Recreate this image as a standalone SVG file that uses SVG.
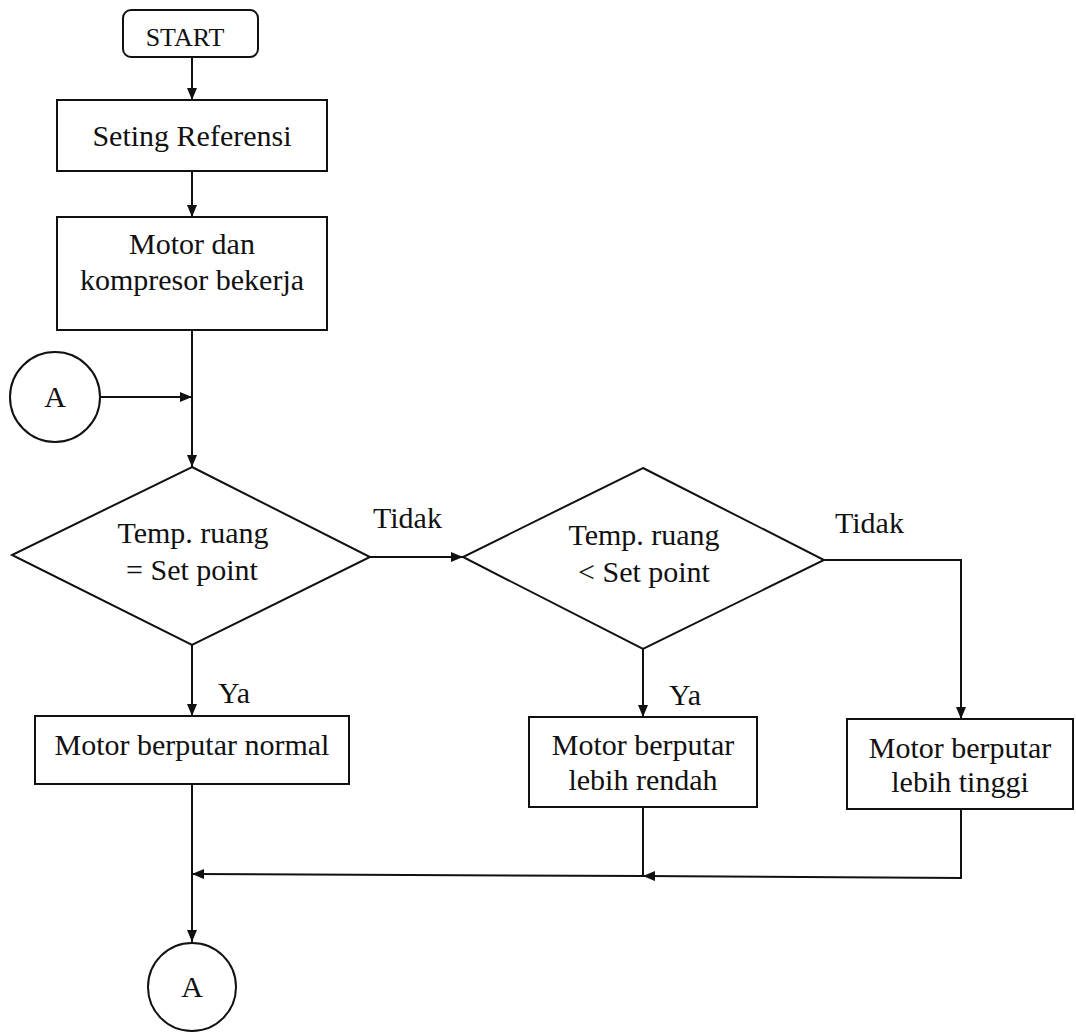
<svg xmlns="http://www.w3.org/2000/svg" width="1076" height="1032" viewBox="0 0 1076 1032">
<defs>
<marker id="arr" viewBox="0 0 12 10" refX="12" refY="5" markerWidth="12" markerHeight="10" markerUnits="userSpaceOnUse" orient="auto">
<path d="M0,0 L12,5 L0,10 z" fill="#111"/>
</marker>
<style>
.s{fill:#fff;stroke:#111;stroke-width:2}
.t{font-family:"Liberation Serif","Times New Roman",serif;font-size:30px;fill:#111;text-anchor:middle}
.l{font-family:"Liberation Serif","Times New Roman",serif;font-size:30px;fill:#111}
.c{fill:none;stroke:#111;stroke-width:2}
</style>
</defs>
<rect width="1076" height="1032" fill="#fff"/>
<g id="connectors">
<path class="c" d="M192,57 L192,100" marker-end="url(#arr)"/>
<path class="c" d="M192,171 L192,217" marker-end="url(#arr)"/>
<path class="c" d="M192,330 L192,467" marker-end="url(#arr)"/>
<path class="c" d="M100,397 L192,397" marker-end="url(#arr)"/>
<path class="c" d="M370,557 L463,557" marker-end="url(#arr)"/>
<path class="c" d="M192,645 L192,716" marker-end="url(#arr)"/>
<path class="c" d="M643,649 L643,717" marker-end="url(#arr)"/>
<path class="c" d="M824,560 L961,560 L961,719" marker-end="url(#arr)"/>
<path class="c" d="M961,809 L961,878 L643,876" marker-end="url(#arr)"/>
<path class="c" d="M643,807 L643,876 L192,874" marker-end="url(#arr)"/>
<path class="c" d="M192,784 L192,942" marker-end="url(#arr)"/>
<text class="l" x="373" y="528">Tidak</text>
<text class="l" x="835" y="533">Tidak</text>
<text class="l" x="218" y="703">Ya</text>
<text class="l" x="669" y="705">Ya</text>
</g>
<g id="start">
<rect class="s" x="123" y="10" width="135" height="47" rx="8"/>
<text class="t" x="185" y="46" style="font-size:26px">START</text>
</g>
<g id="seting">
<rect class="s" x="57" y="100" width="270" height="71"/>
<text class="t" x="192" y="146">Seting Referensi</text>
</g>
<g id="motor-kompresor">
<rect class="s" x="57" y="217" width="270" height="113"/>
<text class="t" x="192" y="254">Motor dan</text>
<text class="t" x="192" y="290">kompresor bekerja</text>
</g>
<g id="connector-a-in">
<circle class="s" cx="55" cy="397" r="45"/>
<text class="t" x="55" y="407">A</text>
</g>
<g id="decision-1">
<polygon class="s" points="192,467 370,557 192,645 12,555"/>
<text class="t" x="193" y="543">Temp. ruang</text>
<text class="t" x="192" y="580">= Set point</text>
</g>
<g id="decision-2">
<polygon class="s" points="643,468 824,560 643,649 463,557"/>
<text class="t" x="644" y="545">Temp. ruang</text>
<text class="t" x="644" y="582">&lt; Set point</text>
</g>
<g id="normal">
<rect class="s" x="35" y="716" width="314" height="68"/>
<text class="t" x="192" y="755">Motor berputar normal</text>
</g>
<g id="rendah">
<rect class="s" x="529" y="717" width="228" height="90"/>
<text class="t" x="643" y="755">Motor berputar</text>
<text class="t" x="643" y="790">lebih rendah</text>
</g>
<g id="tinggi">
<rect class="s" x="847" y="719" width="226" height="90"/>
<text class="t" x="960" y="758">Motor berputar</text>
<text class="t" x="960" y="792">lebih tinggi</text>
</g>
<g id="connector-a-out">
<circle class="s" cx="192" cy="987" r="44"/>
<text class="t" x="192" y="997">A</text>
</g>
</svg>
